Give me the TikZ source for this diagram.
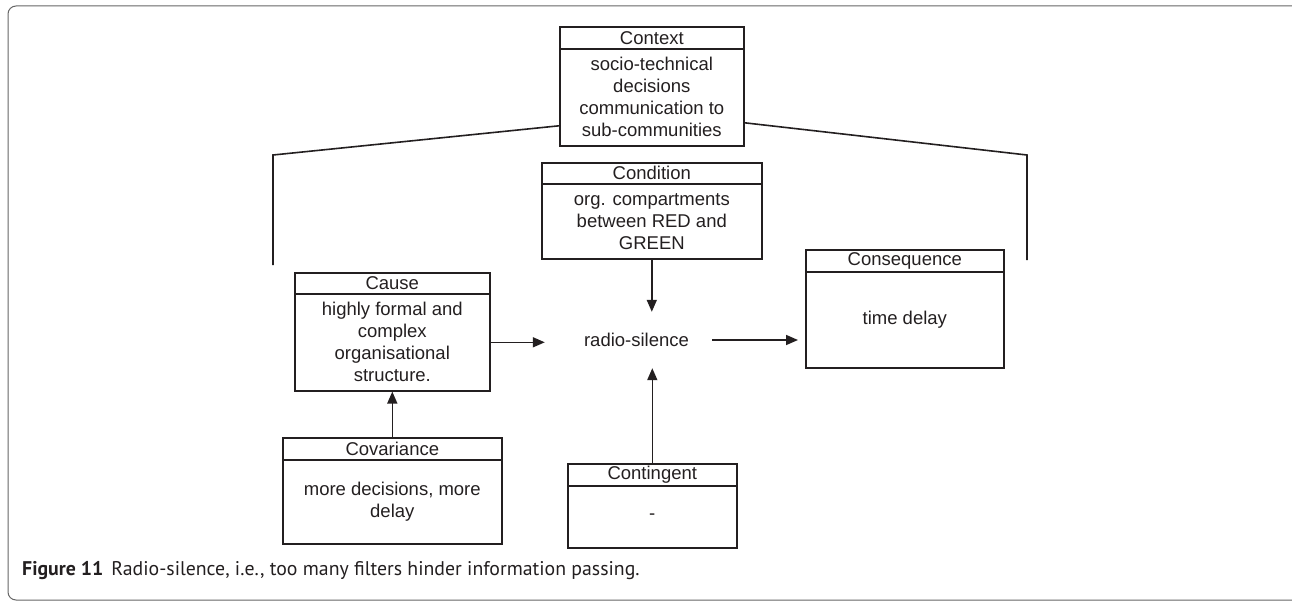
\documentclass[tikz,border=0pt]{standalone}
\usepackage{fontspec}
\setmainfont{Liberation Sans}
\newfontfamily\capfont{PT Sans}
\usetikzlibrary{arrows.meta}
\definecolor{ink}{HTML}{231F20}
\begin{document}
\begin{tikzpicture}[x=1pt,y=-1pt,
  every node/.style={text=ink},
  hdr/.style={draw=ink, line width=1.6pt, anchor=north west, inner sep=0pt, align=center, font=\fontsize{18.5}{22}\selectfont},
  bdy/.style={draw=ink, line width=1.6pt, anchor=north west, inner sep=0pt, align=center, font=\fontsize{18.5}{22}\selectfont},
  arr/.style={draw=ink, line width=1.6pt, -{Triangle[length=12pt,width=10pt]}},
  lnk/.style={draw=ink, line width=1.6pt}]
\useasboundingbox (0,0) rectangle (1292,602);
\draw[draw=gray!80!black, line width=1pt, rounded corners=8pt] (8,6) rectangle (1320,600);

% Context
\node[hdr, minimum width=184pt, minimum height=22pt] (ctxT) at (559,26) {Context};
\node[bdy, minimum width=184pt, minimum height=97pt] (ctxB) at (559,48) {socio-technical\\decisions\\communication to\\sub-communities};
% Condition
\node[hdr, minimum width=220pt, minimum height=21pt] (condT) at (541,162) {Condition};
\node[bdy, minimum width=220pt, minimum height=75pt] (condB) at (541,183) {org. compartments\\between RED and\\GREEN};
% Cause
\node[hdr, minimum width=195pt, minimum height=21pt] (causeT) at (294,272) {Cause};
\node[bdy, minimum width=195pt, minimum height=97pt] (causeB) at (294,293) {highly formal and\\complex\\organisational\\structure.};
% Covariance
\node[hdr, minimum width=219pt, minimum height=22pt] (covT) at (282,437) {Covariance};
\node[bdy, minimum width=219pt, minimum height=84pt] (covB) at (282,459) {more decisions, more\\delay};
% Contingent
\node[hdr, minimum width=169pt, minimum height=22pt] (contT) at (567,463) {Contingent};
\node[bdy, minimum width=169pt, minimum height=62pt] (contB) at (567,485) {-};
% Consequence
\node[hdr, minimum width=198pt, minimum height=22pt] (consT) at (805,249) {Consequence};
\node[bdy, minimum width=198pt, minimum height=96pt] (consB) at (805,271) {time delay};
% central phenomenon
\node[inner sep=0pt, minimum width=167pt, minimum height=56pt, font=\fontsize{18.5}{22}\selectfont] (radio) at (628.5,340) {\hspace*{16pt}radio-silence};

% context brackets
\coordinate (cl1) at (273,155);
\coordinate (cl2) at (273,265);
\coordinate (cr1) at (1027,155);
\coordinate (cr2) at (1027,260);
\draw[lnk] ([yshift=-28.5pt]ctxB.west) -- (cl1) -- (cl2);
\draw[lnk] ([yshift=-25.5pt]ctxB.east) -- (cr1) -- (cr2);

% arrows
\draw[arr] (causeB.east) -- (causeB.east -| radio.west);
\draw[arr, shorten >=7pt] (radio.east) -- (radio.east -| consB.west);
\draw[arr] (condB.south) -- (condB.south |- radio.north);
\draw[arr] (contT.north) -- (contT.north |- radio.south);
\draw[arr] (covT.north) -- (causeB.south);

% caption
\node[anchor=west, inner sep=0pt, font=\capfont\fontsize{19.8}{24}\selectfont] (cap) at (22,571) {\textbf{Figure 11}\hspace{8pt}Radio-silence, i.e., too many filters hinder information passing.};
\end{tikzpicture}
\end{document}
